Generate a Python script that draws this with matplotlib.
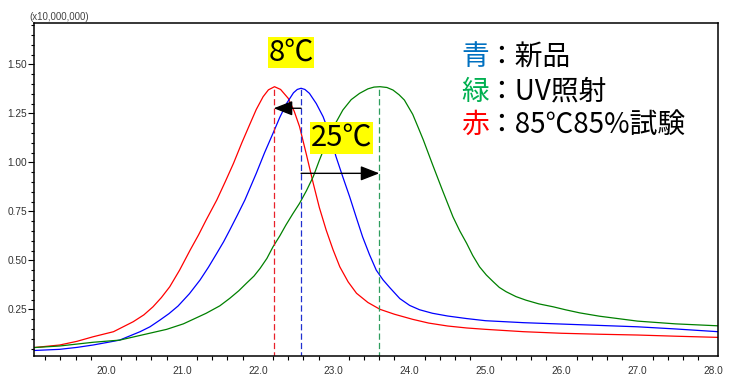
import matplotlib
matplotlib.use("Agg")
import matplotlib.pyplot as plt
from matplotlib.ticker import MultipleLocator, FormatStrFormatter, FixedLocator

# ---- data (units: x10,000,000) ----
red_x = [19.05, 19.39, 19.62, 19.83, 20.10, 20.36, 20.50, 20.62, 20.73, 20.84, 20.97, 21.11,
         21.22, 21.32, 21.46, 21.57, 21.68, 21.79, 21.89, 21.98, 22.07, 22.14, 22.22, 22.30,
         22.40, 22.48, 22.55, 22.64, 22.73, 22.81, 22.90, 22.99, 23.08, 23.19, 23.30, 23.45,
         23.61, 23.80, 24.04, 24.25, 24.50, 24.75, 25.00, 25.50, 26.00, 26.50, 27.00, 27.50,
         28.06]
red_y = [0.055, 0.068, 0.087, 0.110, 0.136, 0.187, 0.222, 0.263, 0.310, 0.365, 0.450, 0.553,
         0.630, 0.706, 0.808, 0.900, 0.995, 1.100, 1.190, 1.270, 1.335, 1.370, 1.386, 1.372,
         1.327, 1.260, 1.182, 1.040, 0.893, 0.770, 0.655, 0.555, 0.467, 0.390, 0.332, 0.285,
         0.250, 0.225, 0.199, 0.180, 0.165, 0.155, 0.148, 0.136, 0.128, 0.123, 0.119, 0.113,
         0.107]

blue_x = [19.05, 19.39, 19.62, 19.83, 20.00, 20.18, 20.45, 20.58, 20.71, 20.83, 20.95, 21.10,
          21.24, 21.35, 21.46, 21.55, 21.63, 21.73, 21.83, 21.98, 22.09, 22.20, 22.29, 22.38,
          22.47, 22.52, 22.57, 22.62, 22.68, 22.77, 22.86, 22.95, 23.03, 23.12, 23.21, 23.30,
          23.38, 23.47, 23.56, 23.65, 23.74, 23.87, 24.00, 24.13, 24.30, 24.50, 24.75, 25.00,
          25.50, 26.00, 26.50, 27.00, 27.50, 28.06]
blue_y = [0.040, 0.046, 0.056, 0.068, 0.080, 0.093, 0.136, 0.161, 0.195, 0.228, 0.267, 0.330,
          0.400, 0.465, 0.536, 0.595, 0.654, 0.730, 0.808, 0.944, 1.050, 1.148, 1.230, 1.301,
          1.355, 1.372, 1.378, 1.372, 1.352, 1.300, 1.233, 1.140, 1.029, 0.925, 0.824, 0.715,
          0.620, 0.530, 0.450, 0.400, 0.360, 0.305, 0.270, 0.248, 0.230, 0.216, 0.203, 0.192,
          0.182, 0.175, 0.168, 0.161, 0.150, 0.136]

green_x = [19.05, 19.39, 19.83, 20.18, 20.53, 20.80, 21.02, 21.32, 21.50, 21.63, 21.75, 21.85,
           21.95, 22.03, 22.12, 22.20, 22.29, 22.37, 22.46, 22.55, 22.64, 22.73, 22.81, 22.90,
           23.01, 23.12, 23.23, 23.34, 23.45, 23.53, 23.61, 23.70, 23.78, 23.86, 23.93, 24.04,
           24.11, 24.18, 24.30, 24.43, 24.57, 24.66, 24.75, 24.83, 24.92, 25.01, 25.10, 25.18,
           25.27, 25.40, 25.53, 25.70, 25.89, 26.05, 26.24, 26.50, 27.00, 27.50, 28.06]
green_y = [0.055, 0.063, 0.082, 0.093, 0.124, 0.148, 0.176, 0.230, 0.268, 0.306, 0.345, 0.383,
           0.420, 0.459, 0.510, 0.569, 0.625, 0.680, 0.737, 0.791, 0.855, 0.927, 1.010, 1.097,
           1.190, 1.267, 1.320, 1.352, 1.375, 1.384, 1.386, 1.382, 1.369, 1.345, 1.318, 1.245,
           1.180, 1.114, 0.990, 0.859, 0.722, 0.650, 0.587, 0.525, 0.467, 0.425, 0.391, 0.362,
           0.340, 0.315, 0.297, 0.278, 0.263, 0.248, 0.232, 0.215, 0.190, 0.176, 0.166]

peak_x = {"red": 22.21, "blue": 22.57, "green": 23.60}
peak_y = {"red": 1.386, "blue": 1.378, "green": 1.386}

shift_labels = ["8℃", "25℃"]
legend_keys = ["青", "緑", "赤"]
legend_texts = ["：新品", "：UV照射", "：85℃85%試験"]

x_ticks = [20.0, 21.0, 22.0, 23.0, 24.0, 25.0, 26.0, 27.0, 28.0]
y_ticks = [0.25, 0.50, 0.75, 1.00, 1.25, 1.50]

# ---- figure ----
plt.rcParams['font.family'] = ['Liberation Sans', 'DejaVu Sans']
CJK = ['Noto Sans CJK JP', 'DejaVu Sans']

fig = plt.figure(figsize=(7.36, 3.84), dpi=100)
W, H = 736, 384
ax = fig.add_axes([34 / W, 1 - 356 / H, (718 - 34) / W, (356 - 23) / H])

ax.plot(red_x, red_y, color='#FF0000', lw=0.9)
ax.plot(blue_x, blue_y, color='#0000FF', lw=0.9)
ax.plot(green_x, green_y, color='#008000', lw=0.9)

dash_cols = {"red": '#E8202A', "blue": '#2030D0', "green": '#2E9E5E'}
for k in ["red", "blue", "green"]:
    ax.plot([peak_x[k], peak_x[k]], [0.0, peak_y[k]], color=dash_cols[k], lw=0.9,
            dashes=(5, 2.5))

ax.set_xlim(19.053, 28.06)
ax.set_ylim(0.012, 1.711)

ax.xaxis.set_major_locator(FixedLocator(x_ticks))
ax.xaxis.set_major_formatter(FormatStrFormatter('%.1f'))
ax.xaxis.set_minor_locator(MultipleLocator(0.2))
ax.yaxis.set_major_locator(FixedLocator(y_ticks))
ax.yaxis.set_major_formatter(FormatStrFormatter('%.2f'))
ax.yaxis.set_minor_locator(MultipleLocator(0.05))

ax.tick_params(axis='x', which='major', length=0, pad=7, labelsize=7.3, colors='#333333')
ax.tick_params(axis='x', which='minor', length=3.2, width=0.8, color='black')
ax.tick_params(axis='y', which='major', length=4, width=0.8, pad=1, labelsize=7.3,
               labelcolor='#333333', color='black')
ax.tick_params(axis='y', which='minor', length=2.2, width=0.8, color='black')
for s in ax.spines.values():
    s.set_linewidth(1.1)
    s.set_color('black')

fig.text(29 / W, 1 - 17.5 / H, "(x10,000,000)", ha='left', va='center', fontsize=7,
         color='#444444')

# arrows
arrow_kw = dict(arrowstyle='-|>,head_length=1.15,head_width=0.45', color='black', lw=1.0,
                shrinkA=0, shrinkB=0, mutation_scale=10)
ax.annotate('', xy=(peak_x["red"], 1.276), xytext=(peak_x["blue"], 1.276), arrowprops=arrow_kw)
ax.annotate('', xy=(peak_x["green"], 0.944), xytext=(peak_x["blue"], 0.944), arrowprops=arrow_kw)

box = dict(facecolor='#FFFF00', edgecolor='none', pad=0.5)
ax.text(22.44, 1.56, shift_labels[0], ha='center', va='center', fontsize=21, family=CJK, bbox=box)
ax.text(23.105, 1.124, shift_labels[1], ha='center', va='center', fontsize=21, family=CJK, bbox=box)

# legend-like text
key_cols = ['#0070C0', '#00B050', '#FF0000']
rows_y = [56.7, 91.7, 125.0]
for key, txt, c, yy in zip(legend_keys, legend_texts, key_cols, rows_y):
    fig.text(461 / W, 1 - yy / H, key, ha='left', va='center', fontsize=20, family=CJK, color=c)
    fig.text(487 / W, 1 - yy / H, txt, ha='left', va='center', fontsize=20, family=CJK,
             color='black')

fig.savefig('out.png', dpi=100)
